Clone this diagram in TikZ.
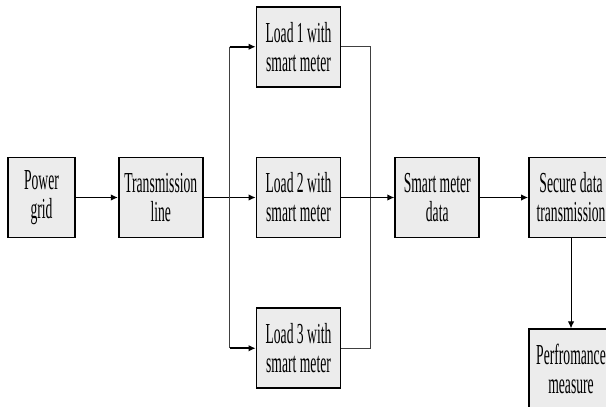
\documentclass[tikz,border=0pt]{standalone}
\usepackage{fontspec}
\setmainfont[FakeStretch=0.47]{Liberation Serif}
\usetikzlibrary{arrows.meta,positioning,calc}
\definecolor{boxgray}{RGB}{236,236,236}

\begin{document}
\begin{tikzpicture}[
    blk/.style={draw=black, fill=boxgray, line width=1pt,
                minimum width=1.68cm, minimum height=1.6cm, inner sep=1pt,
                font=\fontsize{16.5}{16.5}\selectfont, align=center},
    arr/.style={-{Latex[length=1.4mm,width=1.3mm]}, line width=0.9pt},
    wire/.style={line width=0.7pt, black!75}
  ]
    \useasboundingbox (0,0) rectangle (12.12,-8.14);
    \node[blk, minimum width=1.34cm] (pg) at (0.83,-3.95) {Power\\grid};
    \node[blk, right=0.84cm of pg] (tl) {Transmission\\line};
    \node[blk, right=1.04cm of tl] (l2) {Load 2 with\\smart meter};
    \node[blk, above=1.38cm of l2] (l1) {Load 1 with\\smart meter};
    \node[blk, below=1.38cm of l2] (l3) {Load 3 with\\smart meter};
    \node[blk, right=1.06cm of l2] (smd) {Smart meter\\data};
    \node[blk, right=0.96cm of smd] (sdt) {Secure data\\transmission};
    \node[blk, below=1.8cm of sdt] (pm) {Perfromance\\measure};
    \coordinate (jl) at ($(tl.east)!0.5!(l2.west)$);
    \coordinate (jr) at ($(l2.east)!0.55!(smd.west)$);
    % feed to the loads
    \draw[arr] (pg) -- (tl);
    \draw[arr] (tl) -- (l2);
    \draw[wire] (jl |- l1) -- (jl |- l3);
    \foreach \n in {l1,l3}
      \draw[arr] (jl |- \n) -- (\n);
    % loads to meter data
    \draw[wire] (l1) -| (jr) |- (l3);
    \draw[arr] (l2) -- (smd);
    \draw[arr] (smd) -- (sdt);
    \draw[arr, line width=0.6pt] (sdt) -- (pm);
\end{tikzpicture}
\end{document}
